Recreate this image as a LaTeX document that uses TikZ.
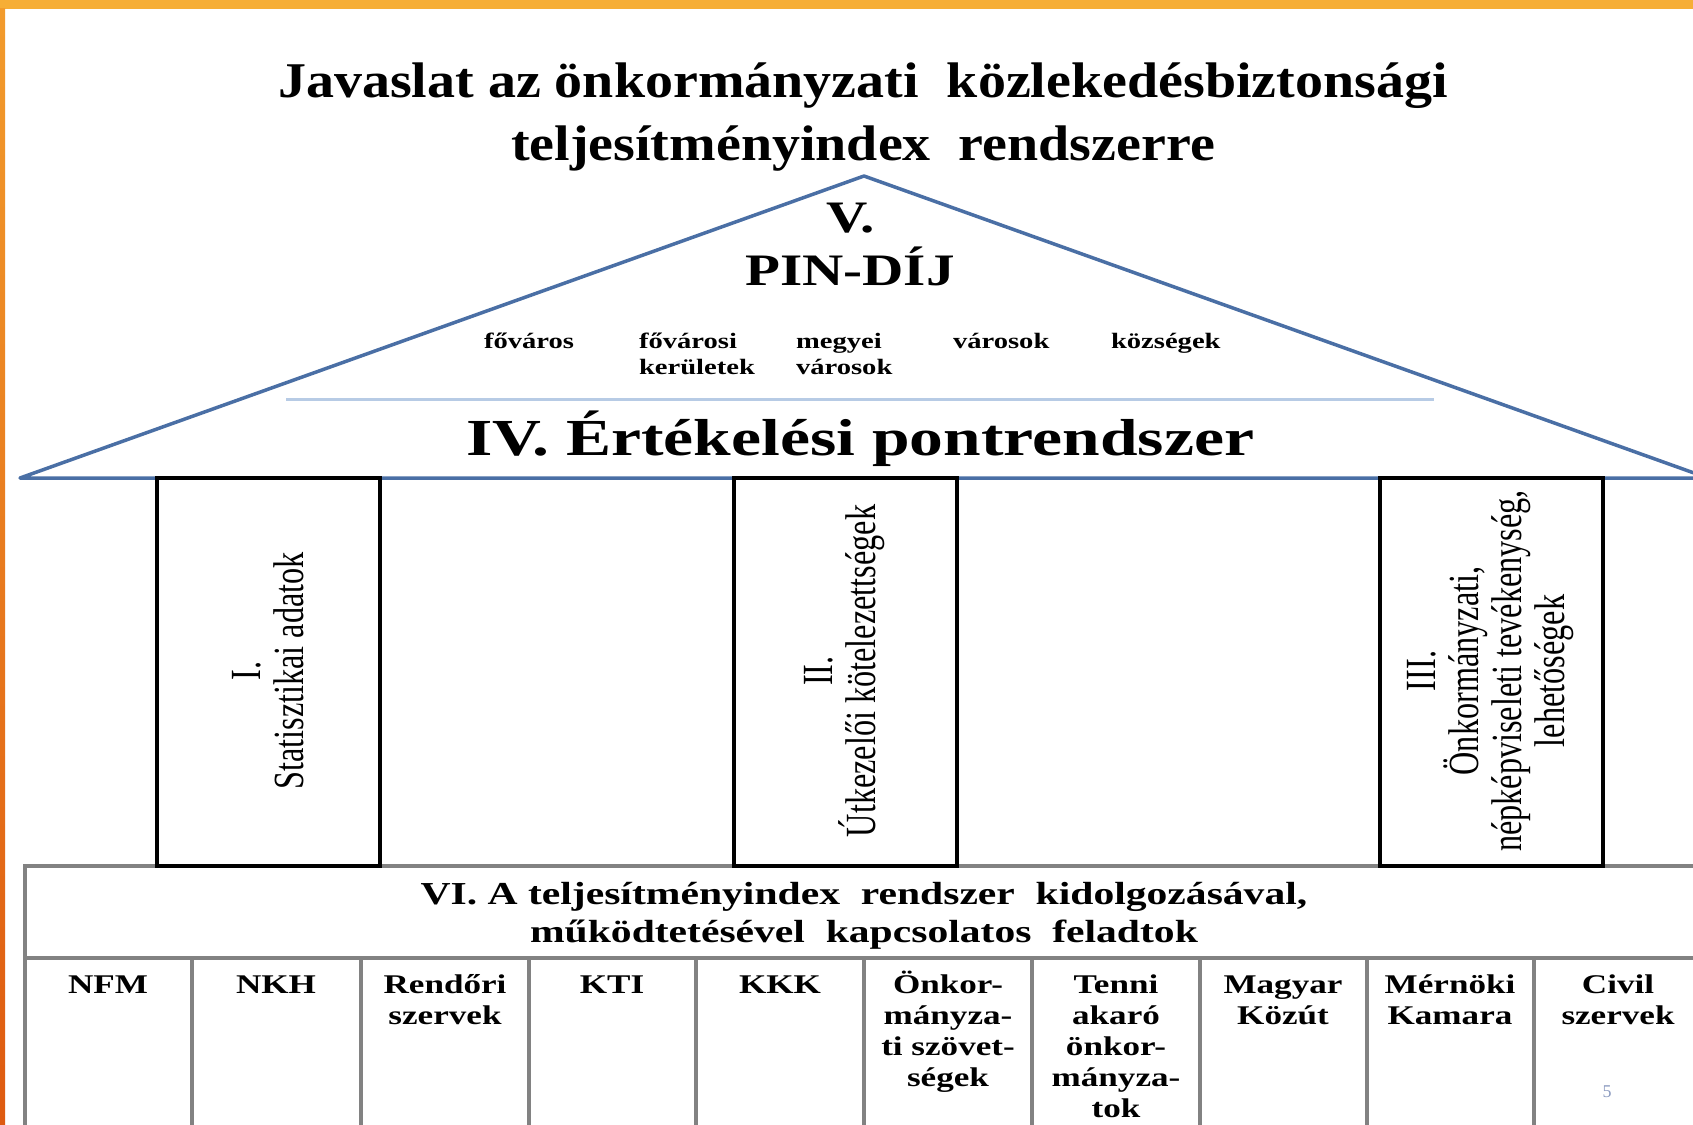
\documentclass[tikz,border=0pt]{standalone}
\usepackage{fontspec}
\setmainfont{Liberation Serif}
\newfontfamily\fT[FakeStretch=1.12]{Liberation Serif}
\newfontfamily\fP[FakeStretch=1.27]{Liberation Serif}
\newfontfamily\fW[FakeStretch=1.3]{Liberation Serif}
\newfontfamily\fN[FakeStretch=0.75]{Liberation Serif}
\definecolor{roofblue}{HTML}{4A6FA5}
\definecolor{lightblue}{HTML}{B7CBE5}
\definecolor{framebar}{HTML}{F6AE36}
\definecolor{frameA}{HTML}{F29B2C}
\definecolor{frameB}{HTML}{DE5A10}
\definecolor{tablegray}{HTML}{828282}
\definecolor{pagenum}{HTML}{8C9BC0}
\newcommand\colbox[1]{\parbox[t]{160pt}{\centering\fW\bfseries\fontsize{27}{31}\selectfont #1}}
\newcommand\lblbox[1]{\parbox[t]{150pt}{\raggedright\fW\bfseries\fontsize{22}{26}\selectfont #1}}
\begin{document}
\begin{tikzpicture}[x=1pt,y=-1pt,
  txt/.style={inner sep=0pt, outer sep=0pt},
  roofline/.style={draw=roofblue, line width=3.5pt, line join=round},
  pillarbox/.style={draw=black, line width=4pt},
  gridline/.style={draw=tablegray, line width=4pt},
  pillartext/.style={txt, rotate=90, align=center, font=\fN\fontsize{43}{43}\selectfont}]
\useasboundingbox (0,0) rectangle (1693,1124);
\clip (0,0) rectangle (1693,1124);
\fill[white] (0,0) rectangle (1693,1124);
% frame
\fill[framebar] (0,0) rectangle (1693,9);
\shade[top color=frameA, bottom color=frameB] (0,9) rectangle (5,1124);
% table
\draw[gridline] (25,1130) -- (25,866) -- (1700,866);
\draw[gridline] (25,958) -- (1700,958);
\foreach \xx in {192,361,529,696,864,1032,1200,1367,1534}
  \draw[gridline] (\xx,958) -- (\xx,1130);
% roof
\coordinate (apex) at (864,176);
\coordinate (eaveL) at (20,478);
\coordinate (eaveR) at (1708,478);
\draw[roofline] (eaveL) -- (apex) -- (eaveR) -- cycle;
\draw[lightblue, line width=3pt] (286,399) -- (1434,399);
% pillars
\draw[pillarbox] (157,478) rectangle (380,866);
\draw[pillarbox] (734,478) rectangle (957,866);
\draw[pillarbox] (1380,478) rectangle (1603,866);
% title
\node[txt, anchor=base] (title) at (863,97) {\parbox[t]{1500pt}{\centering\fT\bfseries\fontsize{50}{63}\selectfont
  Javaslat az önkormányzati\ \ közlekedésbiztonsági\\ teljesítményindex\ \ rendszerre}};
% roof texts
\node[txt, anchor=base] (v) at (851,232) {\fP\bfseries\fontsize{45}{54}\selectfont V.};
\node[txt, anchor=base] (pin) at (850,285) {\fP\bfseries\fontsize{45}{54}\selectfont PIN-DÍJ};
\node[txt, anchor=base west] (l1) at (484,348) {\lblbox{főváros}};
\node[txt, anchor=base west] (l2) at (639,348) {\lblbox{fővárosi\\kerületek}};
\node[txt, anchor=base west] (l3) at (796,348) {\lblbox{megyei\\városok}};
\node[txt, anchor=base west] (l4) at (953,348) {\lblbox{városok}};
\node[txt, anchor=base west] (l5) at (1111,348) {\lblbox{községek}};
\node[txt, anchor=base] (iv) at (860,455) {\fW\bfseries\fontsize{52}{60}\selectfont IV. Értékelési pontrendszer};
% pillar texts
\node[pillartext] (p1) at (268,671) {I.\\Statisztikai adatok};
\node[pillartext] (p2) at (845,671) {II.\\Útkezelői kötelezettségek};
\node[pillartext] (p3) at (1491,671) {III.\\Önkormányzati,\\népképviseleti tevékenység,\\lehetőségek};
% VI
\node[txt, anchor=base] (vi) at (864,904) {\parbox[t]{1600pt}{\centering\fW\bfseries\fontsize{32}{38}\selectfont
  VI. A teljesítményindex\ \ rendszer\ \ kidolgozásával,\\ működtetésével\ \ kapcsolatos\ \ feladtok}};
% columns
\node[txt, anchor=base] (c1) at (108,993) {\colbox{NFM}};
\node[txt, anchor=base] (c2) at (276,993) {\colbox{NKH}};
\node[txt, anchor=base] (c3) at (445,993) {\colbox{Rendőri\\szervek}};
\node[txt, anchor=base] (c4) at (612,993) {\colbox{KTI}};
\node[txt, anchor=base] (c5) at (780,993) {\colbox{KKK}};
\node[txt, anchor=base] (c6) at (948,993) {\colbox{Önkor-\\mányza-\\ti szövet-\\ségek}};
\node[txt, anchor=base] (c7) at (1116,993) {\colbox{Tenni\\akaró\\önkor-\\mányza-\\tok}};
\node[txt, anchor=base] (c8) at (1283,993) {\colbox{Magyar\\Közút}};
\node[txt, anchor=base] (c9) at (1450,993) {\colbox{Mérnöki\\Kamara}};
\node[txt, anchor=base] (c10) at (1618,993) {\colbox{Civil\\szervek}};
\node[txt, anchor=base, text=pagenum] (pg) at (1607,1097) {\fontsize{18}{20}\selectfont 5};
\end{tikzpicture}
\end{document}
